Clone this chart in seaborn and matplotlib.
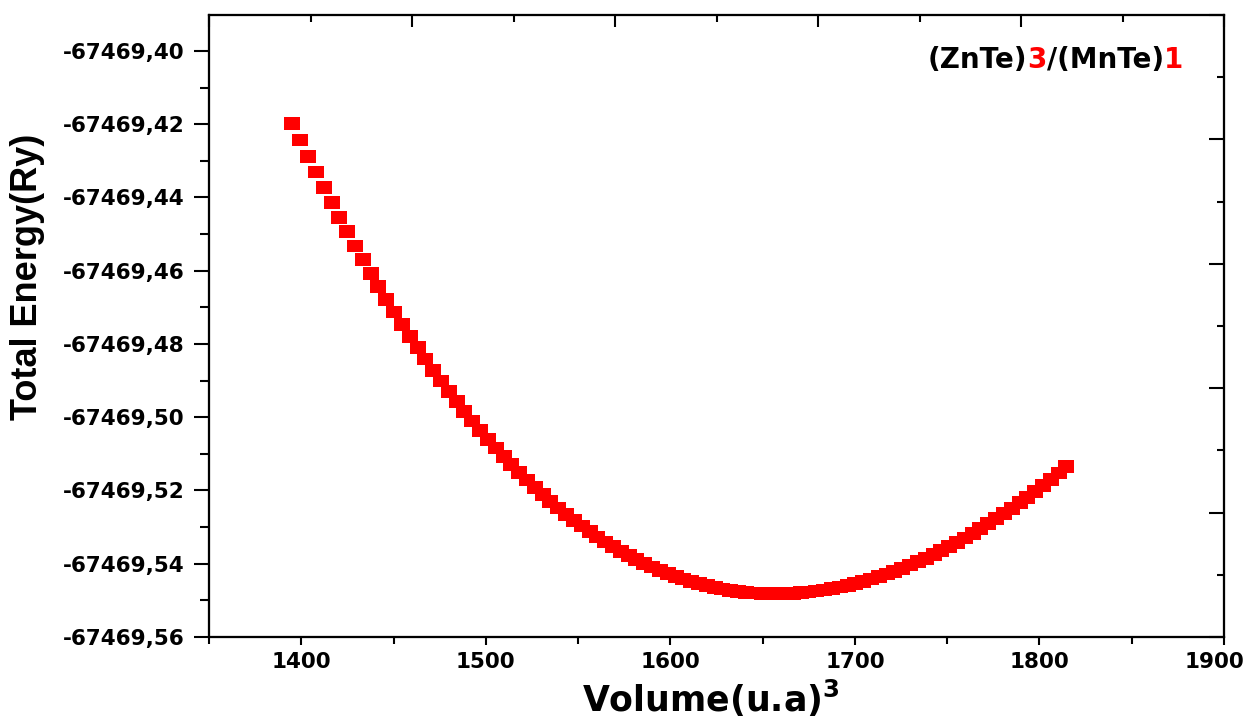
import matplotlib
matplotlib.use("Agg")
import matplotlib.pyplot as plt
import pandas as pd
import seaborn as sns
from matplotlib.markers import MarkerStyle
from matplotlib.ticker import MultipleLocator, FuncFormatter
from matplotlib.transforms import ScaledTranslation

# ---------------- data ----------------
volume = [
    1395.2, 1399.4, 1403.7, 1407.9, 1412.1, 1416.4, 1420.6, 1424.9, 1429.1, 1433.3,
    1437.6, 1441.8, 1446.0, 1450.3, 1454.5, 1458.7, 1463.0, 1467.2, 1471.5, 1475.7,
    1479.9, 1484.2, 1488.4, 1492.6, 1496.9, 1501.1, 1505.3, 1509.6, 1513.8, 1518.1,
    1522.3, 1526.5, 1530.8, 1535.0, 1539.2, 1543.5, 1547.7, 1552.0, 1556.2, 1560.4,
    1564.7, 1568.9, 1573.1, 1577.4, 1581.6, 1585.8, 1590.1, 1594.3, 1598.5, 1602.8,
    1607.0, 1611.3, 1615.5, 1619.7, 1624.0, 1628.2, 1632.4, 1636.7, 1640.9, 1645.1,
    1649.4, 1653.6, 1657.9, 1662.1, 1666.3, 1670.6, 1674.8, 1679.0, 1683.3, 1687.5,
    1691.7, 1696.0, 1700.2, 1704.5, 1708.7, 1712.9, 1717.2, 1721.4, 1725.6, 1729.9,
    1734.1, 1738.3, 1742.6, 1746.8, 1751.1, 1755.3, 1759.5, 1763.8, 1768.0, 1772.2,
    1776.5, 1780.7, 1784.9, 1789.2, 1793.4, 1797.6, 1801.9, 1806.1, 1810.4, 1814.6,
]

energy = [
    -67469.41983, -67469.42433, -67469.42873, -67469.43305, -67469.43727,
    -67469.44140, -67469.44544, -67469.44939, -67469.45326, -67469.45703,
    -67469.46072, -67469.46432, -67469.46783, -67469.47126, -67469.47461,
    -67469.47787, -67469.48105, -67469.48414, -67469.48716, -67469.49009,
    -67469.49294, -67469.49571, -67469.49841, -67469.50102, -67469.50356,
    -67469.50602, -67469.50840, -67469.51070, -67469.51293, -67469.51509,
    -67469.51717, -67469.51918, -67469.52112, -67469.52298, -67469.52477,
    -67469.52649, -67469.52814, -67469.52972, -67469.53124, -67469.53268,
    -67469.53405, -67469.53536, -67469.53660, -67469.53777, -67469.53888,
    -67469.53992, -67469.54090, -67469.54182, -67469.54267, -67469.54345,
    -67469.54418, -67469.54484, -67469.54544, -67469.54598, -67469.54646,
    -67469.54688, -67469.54725, -67469.54755, -67469.54779, -67469.54798,
    -67469.54811, -67469.54818, -67469.54820, -67469.54816, -67469.54807,
    -67469.54792, -67469.54771, -67469.54746, -67469.54715, -67469.54678,
    -67469.54637, -67469.54590, -67469.54538, -67469.54481, -67469.54419,
    -67469.54352, -67469.54280, -67469.54203, -67469.54121, -67469.54035,
    -67469.53943, -67469.53847, -67469.53746, -67469.53641, -67469.53530,
    -67469.53416, -67469.53296, -67469.53173, -67469.53044, -67469.52912,
    -67469.52775, -67469.52633, -67469.52487, -67469.52337, -67469.52183,
    -67469.52025, -67469.51862, -67469.51695, -67469.51525, -67469.51350,
]

x_ticks = [1400, 1500, 1600, 1700, 1800, 1900]
label_parts = ["(ZnTe)", "3", "/(MnTe)", "1"]
label_colors = ["black", "#ff0000", "black", "#ff0000"]
x_label = r"Volume(u.a)$^{\mathbf{3}}$"
y_label = "Total Energy(Ry)"

# ---------------- style ----------------
sns.set_style("ticks")
plt.rcParams["font.family"] = ["DejaVu Sans"]
plt.rcParams["font.weight"] = "bold"
plt.rcParams["mathtext.fontset"] = "dejavusans"
plt.rcParams["axes.edgecolor"] = "black"
plt.rcParams["axes.labelcolor"] = "black"
plt.rcParams["text.color"] = "black"
plt.rcParams["xtick.color"] = "black"
plt.rcParams["ytick.color"] = "black"

W, H = 1246, 717
fig = plt.figure(figsize=(W / 100, H / 100), dpi=100)
fig.patch.set_facecolor("white")
ax = fig.add_axes([209 / W, 1 - 637 / H, (1224 - 209) / W, (637 - 15) / H])

df = pd.DataFrame({"Volume": volume, "Energy": energy})
rect = MarkerStyle([(-1, -0.8), (1, -0.8), (1, 0.8), (-1, 0.8), (-1, -0.8)])
sns.scatterplot(data=df, x="Volume", y="Energy", ax=ax, marker=rect, s=132,
                color="#ff0000", linewidth=0, edgecolor="none", legend=False,
                zorder=3)

ax.set_xlim(1350, 1900)
ax.set_ylim(-67469.56, -67469.3902)
ax.set_xticks(x_ticks)
ax.xaxis.set_minor_locator(MultipleLocator(50))
ax.yaxis.set_major_locator(MultipleLocator(0.02))
ax.yaxis.set_minor_locator(MultipleLocator(0.01))
ax.yaxis.set_major_formatter(FuncFormatter(lambda v, p: f"{v:.2f}".replace(".", ",")))
ax.xaxis.set_major_formatter(FuncFormatter(lambda v, p: f"{v:.0f}"))

ax.tick_params(axis="y", which="major", direction="out", length=10.8, width=1.5,
               pad=7, labelsize=15.5, labelcolor="black")
ax.tick_params(axis="y", which="minor", direction="out", length=6.5, width=1.5)
ax.tick_params(axis="x", which="major", direction="out", length=6, width=1.5,
               pad=5, labelsize=15.5, labelcolor="black")
ax.tick_params(axis="x", which="minor", direction="out", length=5, width=1.5)
ax.tick_params(top=False, right=False)
for s in ax.spines.values():
    s.set_linewidth(1.5)
    s.set_color("black")

ax.set_xlabel(x_label, fontsize=25, fontweight="bold", va="top", color="black")
ax.xaxis.set_label_coords(0.4946, -0.066)
ax.set_ylabel(y_label, fontsize=26, fontweight="bold", color="black",
              family=["Liberation Sans", "DejaVu Sans"])
ax.yaxis.set_label_coords(-0.1616, 0.579)

# top axis (inward ticks, no labels)
axt = ax.twiny()
axt.set_xlim(0, 5)
axt.xaxis.set_major_locator(MultipleLocator(1))
axt.xaxis.set_minor_locator(MultipleLocator(0.5))
axt.tick_params(axis="x", which="major", direction="in", length=8.6, width=1.5,
                labeltop=False, top=True, bottom=False)
axt.tick_params(axis="x", which="minor", direction="in", length=5, width=1.5,
                top=True, bottom=False)
# right axis (inward ticks, no labels)
axr = ax.twinx()
axr.set_ylim(0, 5)
axr.yaxis.set_major_locator(MultipleLocator(1))
axr.yaxis.set_minor_locator(MultipleLocator(0.5))
axr.tick_params(axis="y", which="major", direction="in", length=10.8, width=1.5,
                labelright=False, right=True, left=False)
axr.tick_params(axis="y", which="minor", direction="in", length=5, width=1.5,
                right=True, left=False)
for a in (axt, axr):
    for s in a.spines.values():
        s.set_linewidth(1.5)
        s.set_color("black")

# the last x tick label sits a little left of its tick, as in the reference
fig.canvas.draw()
last = ax.get_xticklabels()[-1]
last.set_transform(last.get_transform() + ScaledTranslation(-10 / 100, 0, fig.dpi_scale_trans))

# coloured composite label
renderer = fig.canvas.get_renderer()
x_px = 928.0
y_px = H - 68.0
for txt, col in zip(label_parts, label_colors):
    t = fig.text(x_px / W, y_px / H, txt, color=col, fontsize=20,
                 fontweight="bold", ha="left", va="baseline")
    bb = t.get_window_extent(renderer)
    x_px = bb.x1

fig.savefig("out.png", dpi=100, facecolor="white")
